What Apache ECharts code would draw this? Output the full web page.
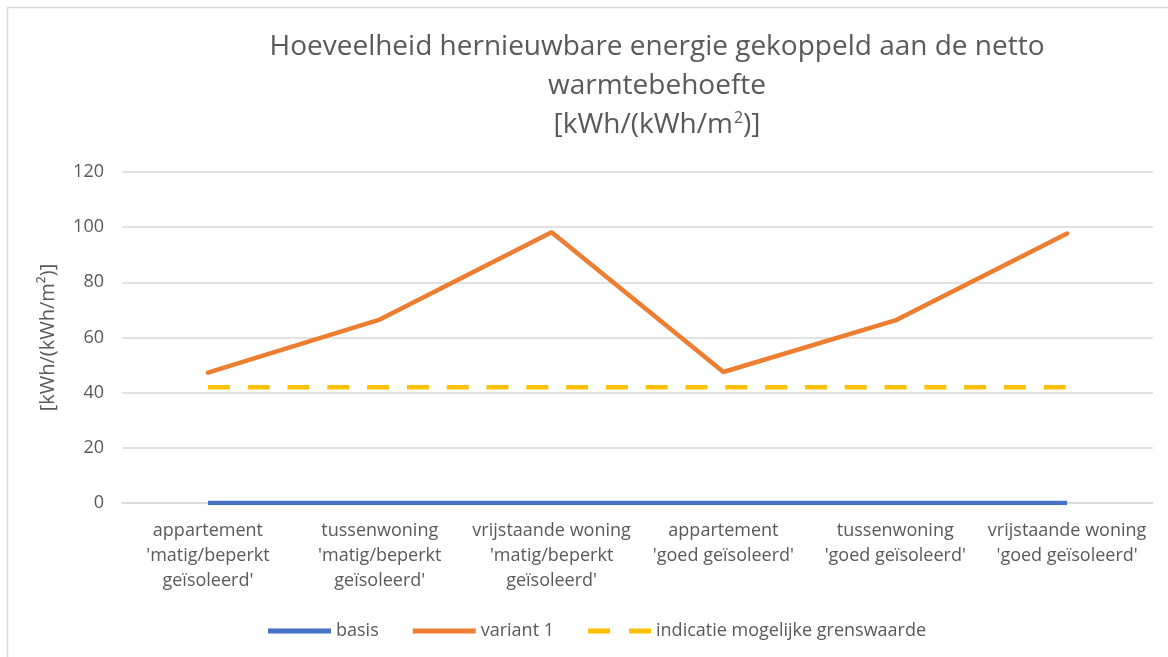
<!DOCTYPE html>
<html>
<head>
<meta charset="utf-8">
<script src="https://cdn.jsdelivr.net/npm/echarts@6/dist/echarts.min.js"></script>
<style>
  html, body { margin: 0; padding: 0; background: #fff; }
  #main { width: 1168px; height: 657px; }
</style>
</head>
<body>
<div id="main"></div>
<script>
var categories = [
    "appartement\n'matig/beperkt\ngeïsoleerd'",
    "tussenwoning\n'matig/beperkt\ngeïsoleerd'",
    "vrijstaande woning\n'matig/beperkt\ngeïsoleerd'",
    "appartement\n'goed geïsoleerd'",
    "tussenwoning\n'goed geïsoleerd'",
    "vrijstaande woning\n'goed geïsoleerd'"
];
var basis = [0, 0, 0, 0, 0, 0];
var variant1 = [47.3, 66.5, 98.2, 47.5, 66.2, 97.7];
var grenswaarde = [42, 42, 42, 42, 42, 42];

var font = "'Open Sans', sans-serif";
var grey = '#595959';
var myChart = echarts.init(document.getElementById("main"));
var option = {
    animation: false,
    textStyle: { fontFamily: font },
    graphic: [{
        type: 'rect',
        shape: { x: 7.5, y: 7.5, width: 1200, height: 700 },
        style: { fill: 'none', stroke: '#d9d9d9', lineWidth: 1.5 },
        silent: true
    }],
    title: {
        text: 'Hoeveelheid hernieuwbare energie gekoppeld aan de netto\nwarmtebehoefte\n[kWh/(kWh/m{sup|2})]',
        left: 652,
        top: 23,
        textAlign: 'center',
        textStyle: {
            fontFamily: font,
            fontSize: 28,
            fontWeight: 'normal',
            color: grey,
            lineHeight: 39,
            rich: {
                sup: { fontSize: 16, lineHeight: 16, verticalAlign: 'top', padding: [4, 0, 0, 1], color: grey, fontFamily: font }
            }
        }
    },
    legend: {
        top: 617,
        left: 263,
        itemWidth: 63,
        itemHeight: 5,
        itemGap: 34,
        textStyle: { fontFamily: font, fontSize: 18, color: grey },
        data: [
            { name: 'basis', icon: 'rect' },
            { name: 'variant 1', icon: 'rect' },
            { name: 'indicatie mogelijke grenswaarde', icon: 'path://M0,0h22v5h-22z M41,0h22v5h-22z' }
        ]
    },
    grid: { left: 122, right: 15, top: 172, bottom: 154 },
    xAxis: {
        type: 'category',
        data: categories,
        axisLine: { lineStyle: { color: '#d9d9d9', width: 1.5 } },
        axisTick: { show: false },
        axisLabel: { color: grey, fontSize: 18, lineHeight: 25, margin: 15, interval: 0 }
    },
    yAxis: {
        type: 'value',
        min: 0,
        max: 120,
        interval: 20,
        name: '[kWh/(kWh/m²)]',
        nameLocation: 'middle',
        nameGap: 64,
        nameTextStyle: { color: grey, fontSize: 20, fontFamily: font },
        axisLine: { show: false },
        axisTick: { show: false },
        axisLabel: { color: grey, fontSize: 18, margin: 18 },
        splitLine: { lineStyle: { color: '#d9d9d9', width: 1.5 } }
    },
    series: [
        {
            name: 'basis', type: 'line', data: basis, symbol: 'none',
            lineStyle: { color: '#4472C4', width: 4.5 }, itemStyle: { color: '#4472C4' }, z: 3
        },
        {
            name: 'variant 1', type: 'line', data: variant1, symbol: 'none',
            lineStyle: { color: '#ED7D31', width: 4.5, cap: 'round' }, itemStyle: { color: '#ED7D31' }, z: 4
        },
        {
            name: 'indicatie mogelijke grenswaarde', type: 'line', data: grenswaarde, symbol: 'none',
            lineStyle: { color: '#FFC000', width: 4.5, type: [22, 17.8], cap: 'butt' }, itemStyle: { color: '#FFC000' }, z: 2
        }
    ]
};
myChart.setOption(option);
</script>
</body>
</html>
